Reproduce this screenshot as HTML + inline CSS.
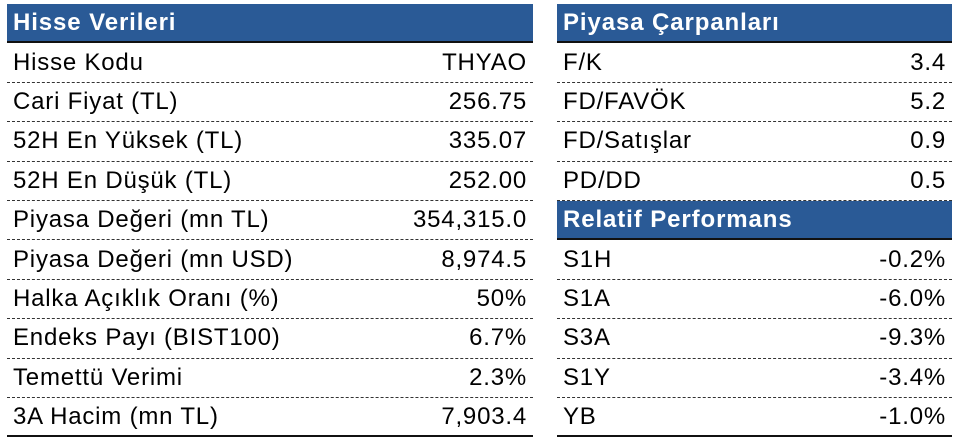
<!DOCTYPE html>
<html><head><meta charset="utf-8"><style>
body{margin:0;width:960px;height:443px;background:#fff;font-family:"Liberation Sans",sans-serif;position:relative;overflow:hidden}
.t{position:absolute;top:4px}
.r{height:39.4px;box-sizing:border-box;border-bottom:1.5px dashed #333;display:flex;justify-content:space-between;align-items:center;font-size:24px;letter-spacing:0.8px;color:#000;padding:0 6px}
.h{background:#2a5a96;color:#fff;font-weight:bold;border-bottom:2px solid #111;padding-left:6px;font-size:24px;letter-spacing:0.9px}
.last{border-bottom:2px solid #111}
</style></head><body>
<div class="t" style="left:7px;width:526px">
<div class="r h"><span>Hisse Verileri</span></div>
<div class="r"><span>Hisse Kodu</span><span>THYAO</span></div>
<div class="r"><span>Cari Fiyat (TL)</span><span>256.75</span></div>
<div class="r"><span>52H En Yüksek (TL)</span><span>335.07</span></div>
<div class="r"><span>52H En Düşük (TL)</span><span>252.00</span></div>
<div class="r"><span>Piyasa Değeri (mn TL)</span><span>354,315.0</span></div>
<div class="r"><span>Piyasa Değeri (mn USD)</span><span>8,974.5</span></div>
<div class="r"><span>Halka Açıklık Oranı (%)</span><span>50%</span></div>
<div class="r"><span>Endeks Payı (BIST100)</span><span>6.7%</span></div>
<div class="r"><span>Temettü Verimi</span><span>2.3%</span></div>
<div class="r last"><span>3A Hacim (mn TL)</span><span>7,903.4</span></div>
</div>
<div class="t" style="left:557px;width:395px">
<div class="r h"><span>Piyasa Çarpanları</span></div>
<div class="r"><span>F/K</span><span>3.4</span></div>
<div class="r"><span>FD/FAVÖK</span><span>5.2</span></div>
<div class="r"><span>FD/Satışlar</span><span>0.9</span></div>
<div class="r"><span>PD/DD</span><span>0.5</span></div>
<div class="r h"><span>Relatif Performans</span></div>
<div class="r"><span>S1H</span><span>-0.2%</span></div>
<div class="r"><span>S1A</span><span>-6.0%</span></div>
<div class="r"><span>S3A</span><span>-9.3%</span></div>
<div class="r"><span>S1Y</span><span>-3.4%</span></div>
<div class="r last"><span>YB</span><span>-1.0%</span></div>
</div>
</body></html>
